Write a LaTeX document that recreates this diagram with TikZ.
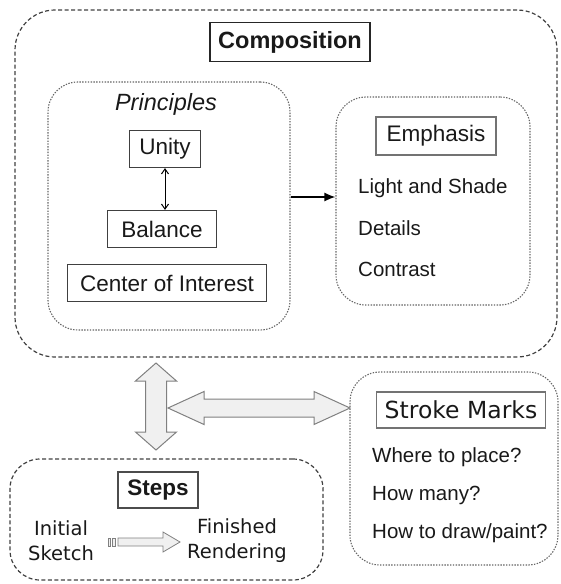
\documentclass[tikz,border=0pt]{standalone}
\usepackage{fontspec}
\setmainfont{Liberation Sans}
\newfontfamily\comicfont{DejaVu Sans}
\usetikzlibrary{positioning,arrows.meta}

\tikzset{
  outerbox/.style={draw=black!75, dash pattern=on 4pt off 2.5pt, line width=1.2pt, rounded corners=40pt, minimum width=#1},
  innerbox/.style={draw=black!60, dash pattern=on 1.4pt off 1.4pt, line width=1.1pt, rounded corners=30pt, minimum width=#1},
  labelbox/.style={draw=black!75, line width=1.2pt, inner xsep=8pt, minimum height=37pt, font=\fontsize{22.5}{26}\selectfont},
  itemtext/.style={anchor=west, inner sep=0pt, font=\fontsize{20.5}{24}\selectfont},
  comictext/.style={align=center, inner sep=0pt, font=\comicfont\fontsize{19.5}{25}\selectfont},
  blockarrow/.style={draw=black!50, fill=black!6, line width=1pt, line join=miter}
}

\begin{document}
\begin{tikzpicture}[x=1pt, y=-1pt, text=black!90]

\useasboundingbox (0,0) rectangle (560,584);

% Composition

\node[outerbox=542pt, minimum height=347pt] (composition) at (286,183.5) {};
\node[labelbox, minimum width=160pt, minimum height=39pt, draw=black!85,
  font=\fontsize{23.5}{27}\selectfont\bfseries] (compLabel) at (290,42) {Composition};

\node[innerbox=242pt, minimum height=248pt] (principles) at (169,206) {};
\node[inner sep=0pt, font=\fontsize{23.5}{27}\selectfont\itshape] (princLabel) at (166,104) {Principles};
\node[labelbox, minimum width=71pt] (unity) at (165,149) {Unity};
\node[labelbox, minimum width=109pt] (balance) at (162,229) {Balance};
\node[labelbox, minimum width=199pt] (centerInt) at (167,283) {Center of Interest};
\draw[{Straight Barb[length=5pt,width=7pt]}-{Straight Barb[length=5pt,width=7pt]}, line width=1pt]
  (unity.south) -- (unity.south |- balance.north);

\node[innerbox=194pt, minimum height=208pt] (emphasis) at (433,201) {};
\node[labelbox, minimum width=120pt, minimum height=38pt, draw=black!55] (emphLabel) at (436,136) {Emphasis};
\node[itemtext] (light) at (358,188) {Light and Shade};
\node[itemtext] (details) at (358,228) {Details};
\node[itemtext] (contrast) at (358,269) {Contrast};

\draw[-{Latex[length=11pt,width=9pt]}, line width=1.6pt]
  ([yshift=9pt]principles.east) -- ([yshift=9pt]principles.east -| emphasis.west);

% Stroke Marks

\node[innerbox=208pt, minimum height=193pt] (stroke) at (454,468.5) {};
\node[labelbox, minimum width=168pt, minimum height=36pt, draw=black!55,
  font=\comicfont\fontsize{23.5}{27}\selectfont] (strokeLabel) at (461,410) {Stroke Marks};
\node[itemtext] (where) at (372,457) {Where to place?};
\node[itemtext] (howMany) at (372,495) {How many?};
\node[itemtext] (howDraw) at (372,533) {How to draw/paint?};

% Steps

\node[outerbox=313pt, minimum height=121pt, rounded corners=30pt] (steps) at (166.5,519.5) {};
\node[labelbox, minimum width=80pt, minimum height=36pt, draw=black!70,
  font=\fontsize{22.5}{26}\selectfont\bfseries] (stepsLabel) at (158,490) {Steps};
\node[comictext] (initial) at (61,541) {Initial\\Sketch};
\node[comictext] (finished) at (237,541) {Finished\\Rendering};

% block arrows

\draw[blockarrow] (156,363) -- ++(20.5,18) -- ++(-10,0) -- ++(0,51) -- ++(10,0)
  -- ++(-20.5,18) -- ++(-20.5,-18) -- ++(10,0) -- ++(0,-51) -- ++(-10,0) -- cycle;
\draw[blockarrow] (168,408) -- ++(36,-16.5) -- ++(0,7.5) -- ++(110,0) -- ++(0,-7.5)
  -- ++(36,16.5) -- ++(-36,16.5) -- ++(0,-7.5) -- ++(-110,0) -- ++(0,7.5) -- cycle;

\draw[blockarrow, line width=0.8pt] (108,538) rectangle (110,546);
\draw[blockarrow, line width=0.8pt] (112,538) rectangle (115,546);
\draw[blockarrow, line width=0.8pt] (118,538) -- ++(45,0) -- ++(0,-6) -- ++(17,10)
  -- ++(-17,10) -- ++(0,-6) -- ++(-45,0) -- cycle;

\end{tikzpicture}
\end{document}
